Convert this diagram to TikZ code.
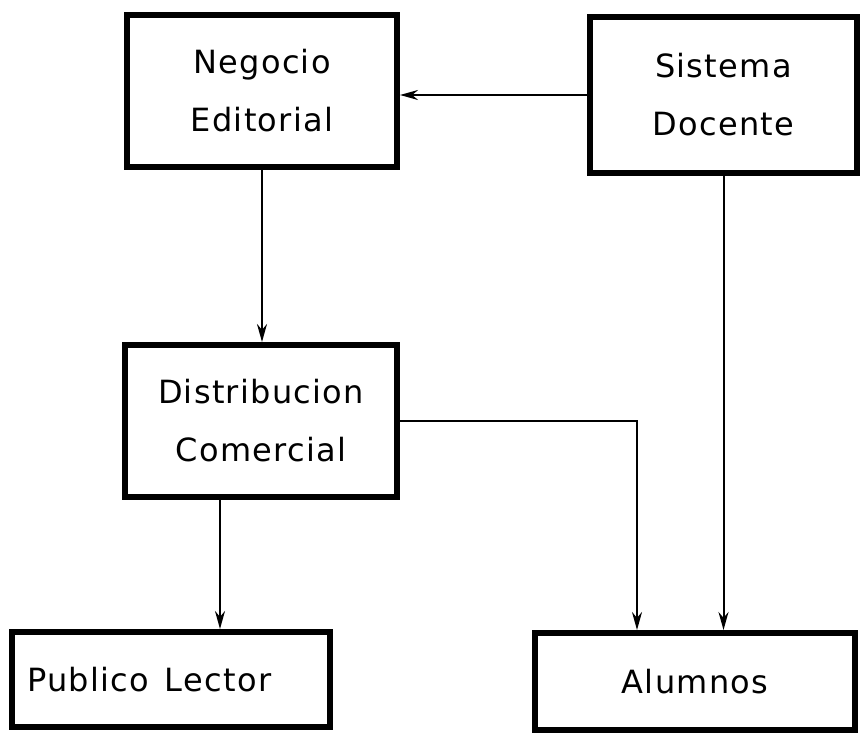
\documentclass[tikz,border=0pt]{standalone}
\usepackage{fontspec}
\setsansfont[LetterSpace=4]{DejaVu Sans}
\usetikzlibrary{arrows.meta}

\begin{document}
\begin{tikzpicture}[x=0.5pt,y=-0.5pt,
		main node/.style={rectangle,draw,line width=3pt,align=center,
			font=\sffamily\fontsize{16}{29}\selectfont,inner sep=0pt},
		flow/.style={line width=1pt,-{Stealth[length=9pt,width=5pt]}}]
		\useasboundingbox (0,0) rectangle (862,743);
		
		\node[main node,minimum width=135pt,minimum height=76pt] (neg) at (262,91) {Negocio\\Editorial};
		\node[main node,minimum width=133.5pt,minimum height=78pt] (sis) at (723.5,95) {Sistema\\Docente};
		\node[main node,minimum width=136pt,minimum height=76pt] (dist) at (261,421) {Distribucion\\Comercial};
		\node[main node,minimum width=159pt,minimum height=47.5pt,align=left,
			text width=144pt,inner xsep=7.5pt] (pub) at (171,679.5) {Publico\hspace{0.5em}Lector};
		\node[main node,minimum width=160pt,minimum height=48.5pt] (alu) at (695,681.5) {Alumnos};
		
		\draw[flow] (sis.west) -- (sis.west -| neg.east);
		\draw[flow] (neg.south) -- (neg.south |- dist.north);
		\draw[flow] ([xshift=-20.5pt]dist.south) -- ([xshift=-20.5pt]dist.south |- pub.north);
		\draw[flow] (dist.east) -| ([xshift=-29pt]alu.north);
		\draw[flow] (sis.south) -- (sis.south |- alu.north);
		\end{tikzpicture}
\end{document}
